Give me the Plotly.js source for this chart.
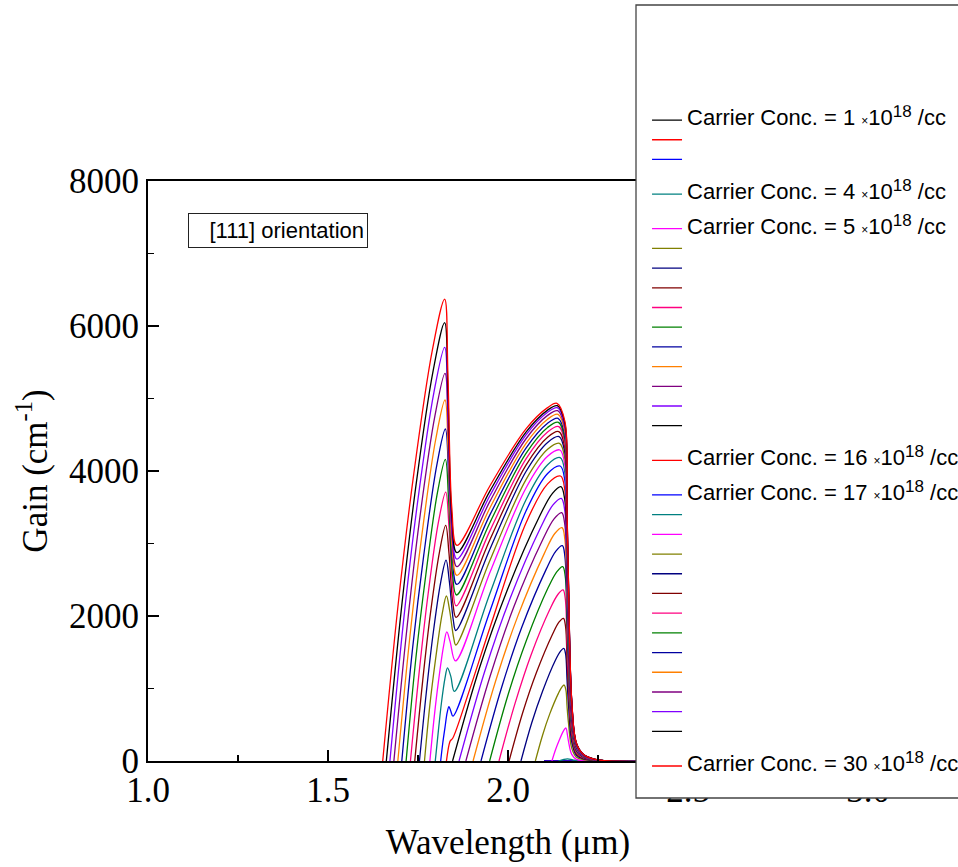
<!DOCTYPE html>
<html><head><meta charset="utf-8">
<script src="https://cdn.plot.ly/plotly-3.0.1.min.js"></script>
<style>html,body{margin:0;padding:0;background:#fff;} #chart{width:958px;height:867px;}</style>
</head><body><div id="chart"></div>
<script>
const carrierConc = [1,2,3,4,5,6,7,8,9,10,11,12,13,14,15,16,17,18,19,20,21,22,23,24,25,26,27,28,29,30];
const labeledConc = [1,4,5,16,17,30];
const lineColors = ['#000000','#ff0000','#0000ff','#008080','#ff00ff','#808000','#000080','#800000','#ff0080','#008000','#0000a0','#ff8000','#800080','#8000ff'];

const wl1 = [2.10, 2.28, 3.0];           const g1 = [0, 0, 0];
const wl2 = [2.10, 2.28, 3.0];           const g2 = [0, 0, 0];
const wl3 = [2.10, 2.28, 3.0];           const g3 = [0, 0, 0];
const wl4 = [2.14, 2.165, 2.18, 2.20, 3.0]; const g4 = [0, 30, 15, 0, 0];
const wl5 = [2.122, 2.132, 2.142, 2.153, 2.158, 2.161, 2.165, 2.168, 2.177, 2.19, 2.21, 2.24, 2.28, 3.0];
const g5  = [0, 155, 282, 405, 444, 455, 364, 273, 91, 23, 8, 2, 0, 0];
const wl6 = [2.076, 2.096, 2.116, 2.140, 2.150, 2.156, 2.161, 2.164, 2.168, 2.177, 2.19, 2.21, 2.24, 2.28, 3.0];
const g6  = [0, 356, 650, 933, 1022, 1048, 975, 755, 524, 178, 52, 19, 5, 0, 0];
const wl7 = [2.036, 2.066, 2.096, 2.131, 2.146, 2.155, 2.160, 2.164, 2.168, 2.177, 2.19, 2.21, 2.24, 2.28, 3.0];
const g7  = [0, 528, 963, 1383, 1515, 1554, 1476, 1119, 777, 264, 78, 28, 8, 0, 0];
const wl8 = [2.003, 2.041, 2.079, 2.124, 2.142, 2.154, 2.160, 2.164, 2.168, 2.177, 2.19, 2.21, 2.24, 2.28, 3.0];
const g8  = [0, 669, 1220, 1752, 1919, 1968, 1850, 1378, 984, 335, 98, 35, 10, 0, 0];
const wl9 = [1.975, 2.020, 2.064, 2.117, 2.139, 2.153, 2.159, 2.164, 2.168, 2.177, 2.19, 2.21, 2.24, 2.28, 3.0];
const g9  = [0, 802, 1463, 2100, 2300, 2359, 2241, 1651, 1180, 401, 118, 42, 12, 0, 0];
const wl10 = [1.949, 2.000, 2.051, 2.111, 2.136, 2.152, 2.159, 2.164, 2.168, 2.177, 2.19, 2.21, 2.24, 2.28, 3.0];
const g10  = [0, 911, 1662, 2385, 2613, 2680, 2546, 1876, 1340, 456, 134, 48, 13, 0, 0];
const wl11 = [1.925, 1.982, 2.038, 2.106, 2.133, 2.151, 2.158, 2.164, 2.168, 2.177, 2.19, 2.21, 2.24, 2.28, 3.0];
const g11  = [0, 1010, 1841, 2643, 2896, 2970, 2822, 2079, 1485, 505, 149, 53, 15, 0, 0];
const wl12 = [1.903, 1.965, 2.027, 2.101, 2.130, 2.150, 2.158, 2.164, 2.168, 2.177, 2.19, 2.21, 2.24, 2.28, 3.0];
const g12  = [0, 1094, 1995, 2864, 3138, 3218, 3057, 2253, 1609, 547, 161, 58, 16, 0, 0];
const wl13 = [1.883, 1.950, 2.016, 2.096, 2.128, 2.149, 2.158, 2.164, 2.168, 2.177, 2.19, 2.21, 2.24, 2.28, 3.0];
const g13  = [0, 1165, 2124, 3048, 3339, 3425, 3254, 2398, 1713, 582, 171, 62, 17, 0, 0];
const wl14 = [1.864, 1.935, 2.006, 2.091, 2.125, 2.148, 2.158, 2.164, 2.168, 2.177, 2.19, 2.21, 2.24, 2.28, 3.0];
const g14  = [0, 1232, 2246, 3224, 3532, 3623, 3442, 2536, 1812, 616, 181, 65, 18, 0, 0];
const wl15 = [1.846, 1.921, 1.997, 2.087, 2.123, 2.147, 2.158, 2.164, 2.168, 2.177, 2.19, 2.21, 2.24, 2.28, 3.0];
const g15  = [0, 1287, 2346, 3368, 3689, 3784, 3595, 2649, 1892, 643, 189, 68, 19, 0, 0];
const wl16 = [1.829, 1.836, 1.840, 1.846, 1.893, 1.95, 2.05, 2.11, 2.146, 2.158, 2.164, 2.168, 2.177, 2.19, 2.21, 2.24, 2.28, 3.0];
const g16  = [0, 220, 280, 310, 978, 1842, 3283, 3823, 3931, 3734, 2752, 1966, 668, 197, 71, 20, 0, 0];
const wl17 = [1.813, 1.819, 1.825, 1.831, 1.836, 1.841, 1.847, 1.95, 2.05, 2.11, 2.145, 2.158, 2.164, 2.168, 2.177, 2.19, 2.21, 2.24, 2.28, 3.0];
const g17  = [0, 255, 464, 667, 749, 690, 620, 2069, 3448, 3966, 4069, 3866, 2848, 2035, 692, 203, 73, 20, 0, 0];
const wl18 = [1.798, 1.807, 1.815, 1.825, 1.832, 1.841, 1.851, 1.95, 2.05, 2.11, 2.145, 2.158, 2.164, 2.168, 2.177, 2.19, 2.21, 2.24, 2.28, 3.0];
const g18  = [0, 437, 797, 1144, 1285, 1170, 960, 2314, 3604, 4087, 4184, 3975, 2929, 2092, 711, 209, 75, 21, 0, 0];
const wl19 = [1.783, 1.795, 1.807, 1.821, 1.830, 1.839, 1.854, 1.95, 2.05, 2.11, 2.144, 2.158, 2.164, 2.168, 2.177, 2.19, 2.21, 2.24, 2.28, 3.0];
const g19  = [0, 605, 1104, 1584, 1780, 1650, 1380, 2602, 3766, 4203, 4290, 4076, 3003, 2145, 729, 215, 77, 21, 0, 0];
const wl20 = [1.768, 1.783, 1.799, 1.817, 1.829, 1.838, 1.849, 1.855, 1.95, 2.05, 2.11, 2.143, 2.158, 2.164, 2.168, 2.177, 2.19, 2.21, 2.24, 2.28, 3.0];
const g20  = [0, 774, 1411, 2026, 2276, 2073, 1701, 1600, 2768, 3881, 4299, 4382, 4163, 3067, 2191, 745, 219, 79, 22, 0, 0];
const wl21 = [1.754, 1.773, 1.791, 1.813, 1.828, 1.837, 1.848, 1.855, 1.95, 2.05, 2.11, 2.142, 2.158, 2.164, 2.168, 2.177, 2.19, 2.21, 2.24, 2.28, 3.0];
const g21  = [0, 942, 1717, 2465, 2770, 2479, 1945, 1800, 2923, 3993, 4394, 4474, 4250, 3132, 2237, 761, 224, 81, 22, 0, 0];
const wl22 = [1.741, 1.763, 1.784, 1.810, 1.827, 1.836, 1.847, 1.856, 1.95, 2.05, 2.11, 2.141, 2.158, 2.164, 2.168, 2.177, 2.19, 2.21, 2.24, 2.28, 3.0];
const g22  = [0, 1105, 2015, 2893, 3250, 2869, 2170, 1980, 3056, 4082, 4466, 4543, 4316, 3180, 2272, 772, 227, 82, 23, 0, 0];
const wl23 = [1.729, 1.754, 1.778, 1.807, 1.827, 1.836, 1.847, 1.856, 1.95, 2.05, 2.11, 2.141, 2.158, 2.164, 2.168, 2.177, 2.19, 2.21, 2.24, 2.28, 3.0];
const g23  = [0, 1261, 2300, 3302, 3710, 3239, 2375, 2140, 3178, 4167, 4538, 4612, 4381, 3228, 2306, 784, 231, 83, 23, 0, 0];
const wl24 = [1.717, 1.744, 1.772, 1.804, 1.826, 1.835, 1.846, 1.857, 1.95, 2.05, 2.11, 2.140, 2.158, 2.164, 2.168, 2.177, 2.19, 2.21, 2.24, 2.28, 3.0];
const g24  = [0, 1414, 2579, 3702, 4160, 3599, 2570, 2290, 3290, 4243, 4601, 4672, 4438, 3270, 2336, 794, 234, 84, 23, 0, 0];
const wl25 = [1.705, 1.735, 1.766, 1.802, 1.826, 1.835, 1.846, 1.858, 1.95, 2.05, 2.11, 2.139, 2.158, 2.164, 2.168, 2.177, 2.19, 2.21, 2.24, 2.28, 3.0];
const g25  = [0, 1557, 2839, 4075, 4579, 3936, 2757, 2435, 3398, 4314, 4658, 4727, 4491, 3309, 2364, 804, 236, 85, 24, 0, 0];
const wl26 = [1.694, 1.727, 1.760, 1.799, 1.825, 1.834, 1.845, 1.858, 1.95, 2.05, 2.11, 2.139, 2.158, 2.164, 2.168, 2.177, 2.19, 2.21, 2.24, 2.28, 3.0];
const g26  = [0, 1693, 3087, 4431, 4979, 4253, 2923, 2560, 3493, 4382, 4715, 4782, 4543, 3347, 2391, 813, 239, 86, 24, 0, 0];
const wl27 = [1.683, 1.719, 1.754, 1.797, 1.825, 1.834, 1.845, 1.858, 1.95, 2.05, 2.11, 2.138, 2.158, 2.164, 2.168, 2.177, 2.19, 2.21, 2.24, 2.28, 3.0];
const g27  = [0, 1818, 3315, 4759, 5347, 4547, 3080, 2680, 3584, 4445, 4767, 4832, 4590, 3382, 2416, 821, 242, 87, 24, 0, 0];
const wl28 = [1.672, 1.710, 1.748, 1.794, 1.824, 1.833, 1.844, 1.858, 1.95, 2.05, 2.11, 2.137, 2.158, 2.164, 2.168, 2.177, 2.19, 2.21, 2.24, 2.28, 3.0];
const g28  = [0, 1940, 3538, 5078, 5706, 4830, 3223, 2785, 3662, 4497, 4810, 4873, 4629, 3411, 2437, 828, 244, 88, 24, 0, 0];
const wl29 = [1.662, 1.703, 1.743, 1.792, 1.824, 1.833, 1.844, 1.858, 1.95, 2.05, 2.11, 2.137, 2.158, 2.164, 2.168, 2.177, 2.19, 2.21, 2.24, 2.28, 3.0];
const g29  = [0, 2056, 3749, 5381, 6046, 5095, 3351, 2875, 3726, 4536, 4840, 4901, 4656, 3431, 2451, 833, 245, 88, 25, 0, 0];
const wl30 = [1.652, 1.695, 1.738, 1.790, 1.824, 1.833, 1.844, 1.858, 1.95, 2.05, 2.11, 2.136, 2.158, 2.164, 2.168, 2.177, 2.19, 2.21, 2.24, 2.28, 3.0];
const g30  = [0, 2166, 3951, 5671, 6372, 5353, 3485, 2975, 3797, 4581, 4874, 4933, 4686, 3453, 2467, 839, 247, 89, 25, 0, 0];

const wavelengths = [wl1,wl2,wl3,wl4,wl5,wl6,wl7,wl8,wl9,wl10,wl11,wl12,wl13,wl14,wl15,wl16,wl17,wl18,wl19,wl20,wl21,wl22,wl23,wl24,wl25,wl26,wl27,wl28,wl29,wl30];
const gains = [g1,g2,g3,g4,g5,g6,g7,g8,g9,g10,g11,g12,g13,g14,g15,g16,g17,g18,g19,g20,g21,g22,g23,g24,g25,g26,g27,g28,g29,g30];

const SERIF = 'Liberation Serif, Times New Roman, serif';
const SANS = 'Liberation Sans, Arial, sans-serif';

function legendLabel(n) {
  return '<span style="font-size:22px">Carrier Conc. = ' + n + ' </span>' +
         '<span style="font-size:12px">×</span>' +
         '<span style="font-size:22px">10</span>' +
         '<span style="font-size:17px;baseline-shift:8px">18</span>' +
         '<span style="font-size:22px"> /cc</span>';
}

let groupIdx = 0;
const traces = carrierConc.map((n, i) => {
  const labeled = labeledConc.includes(n);
  if (labeled && i > 0) groupIdx++;
  return {
    type: 'scatter', mode: 'lines',
    x: wavelengths[i], y: gains[i],
    name: labeled ? legendLabel(n) : '',
    legendgroup: 'grp' + groupIdx,
    line: {color: lineColors[i % lineColors.length], width: 1.3, shape: 'spline', smoothing: 1},
    hoverinfo: 'skip'
  };
});

const layout = {
  width: 958, height: 867,
  margin: {l: 148, r: 90, t: 181, b: 106, autoexpand: false},
  paper_bgcolor: '#fff', plot_bgcolor: '#fff',
  showlegend: true,
  xaxis: {
    range: [1, 3], tick0: 1, dtick: 0.5, tickformat: '.1f',
    ticks: 'inside', ticklen: 11, tickwidth: 1.5, tickcolor: '#000',
    minor: {dtick: 0.25, ticks: 'inside', ticklen: 6, tickwidth: 1.5, tickcolor: '#000'},
    showline: true, linewidth: 2, linecolor: '#000', mirror: true,
    showgrid: false, zeroline: false, ticklabelstandoff: -3,
    tickfont: {family: SERIF, size: 35, color: '#000'},
    title: {text: 'Wavelength (μm)', font: {family: SERIF, size: 35, color: '#000'}, standoff: 20}
  },
  yaxis: {
    range: [0, 8000], tick0: 0, dtick: 2000,
    ticks: 'inside', ticklen: 11, tickwidth: 1.5, tickcolor: '#000',
    minor: {dtick: 1000, ticks: 'inside', ticklen: 6, tickwidth: 1.5, tickcolor: '#000'},
    showline: true, linewidth: 2, linecolor: '#000', mirror: true,
    showgrid: false, zeroline: false,
    tickfont: {family: SERIF, size: 35, color: '#000'},
    title: {text: 'Gain (cm<sup>-1</sup>)', font: {family: SERIF, size: 35, color: '#000'}, standoff: 11}
  },
  legend: {
    x: 0.6931, xref: 'paper', xanchor: 'left',
    y: 1.1307, yref: 'paper', yanchor: 'top',
    bgcolor: 'rgba(0,0,0,0)', borderwidth: 0,
    font: {family: SANS, size: 12.85, color: '#000'},
    tracegroupgap: 14.9, maxheight: 860,
    itemclick: false, itemdoubleclick: false
  },
  shapes: [{
    type: 'rect', xref: 'paper', yref: 'paper', layer: 'above',
    x0: 0.67778, x1: 1.2, y0: -0.06379, y1: 1.30345,
    fillcolor: '#fff', line: {color: '#444', width: 1.3}
  }],
  annotations: [{
    xref: 'paper', yref: 'paper', x: 0.1806, y: 0.914, xanchor: 'center', yanchor: 'middle',
    text: '[111] orientation', showarrow: false, align: 'right',
    width: 172, height: 27, borderpad: 3, borderwidth: 1, bordercolor: '#222', bgcolor: '#fff',
    font: {family: SANS, size: 22, color: '#000'}
  }]
};

Plotly.newPlot('chart', traces, layout, {staticPlot: true, displayModeBar: false});
</script>
</body></html>
